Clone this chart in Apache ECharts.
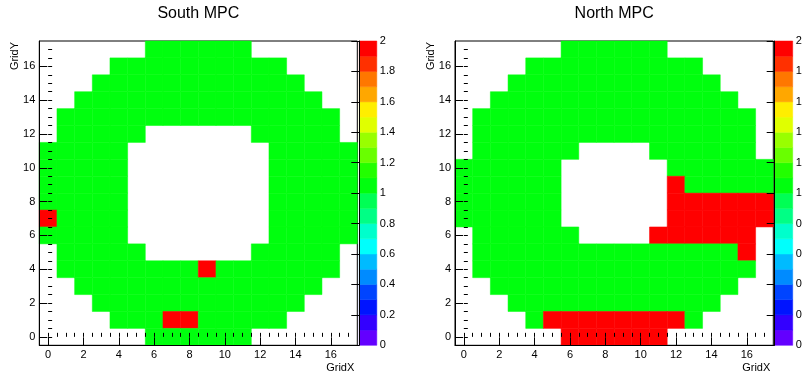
<!DOCTYPE html>
<html><head><meta charset="utf-8">
<script src="https://cdn.jsdelivr.net/npm/echarts@6/dist/echarts.min.js"></script>
<style>html,body{margin:0;padding:0;background:#fff}#c{width:802px;height:378px}</style>
</head><body><div id="c"></div><script>
// ---- data ----
const gridX = [0,1,2,3,4,5,6,7,8,9,10,11,12,13,14,15,16,17];
const gridY = [0,1,2,3,4,5,6,7,8,9,10,11,12,13,14,15,16,17];
const xTickLabels = [0,2,4,6,8,10,12,14,16];
const yTickLabels = [0,2,4,6,8,10,12,14,16];
const zTickLabels = [0,0.2,0.4,0.6,0.8,1,1.2,1.4,1.6,1.8,2];
const titles = ['South MPC','North MPC'];
// rows listed from GridY = 17 (top) down to GridY = 0; columns GridX = 0..17
const southCounts = [
 [0,0,0,0,0,0,1,1,1,1,1,1,0,0,0,0,0,0],
 [0,0,0,0,1,1,1,1,1,1,1,1,1,1,0,0,0,0],
 [0,0,0,1,1,1,1,1,1,1,1,1,1,1,1,0,0,0],
 [0,0,1,1,1,1,1,1,1,1,1,1,1,1,1,1,0,0],
 [0,1,1,1,1,1,1,1,1,1,1,1,1,1,1,1,1,0],
 [0,1,1,1,1,1,0,0,0,0,0,0,1,1,1,1,1,0],
 [1,1,1,1,1,0,0,0,0,0,0,0,0,1,1,1,1,1],
 [1,1,1,1,1,0,0,0,0,0,0,0,0,1,1,1,1,1],
 [1,1,1,1,1,0,0,0,0,0,0,0,0,1,1,1,1,1],
 [1,1,1,1,1,0,0,0,0,0,0,0,0,1,1,1,1,1],
 [2,1,1,1,1,0,0,0,0,0,0,0,0,1,1,1,1,1],
 [1,1,1,1,1,0,0,0,0,0,0,0,0,1,1,1,1,1],
 [0,1,1,1,1,1,0,0,0,0,0,0,1,1,1,1,1,0],
 [0,1,1,1,1,1,1,1,1,2,1,1,1,1,1,1,1,0],
 [0,0,1,1,1,1,1,1,1,1,1,1,1,1,1,1,0,0],
 [0,0,0,1,1,1,1,1,1,1,1,1,1,1,1,0,0,0],
 [0,0,0,0,1,1,1,2,2,1,1,1,1,1,0,0,0,0],
 [0,0,0,0,0,0,1,1,1,1,1,1,0,0,0,0,0,0]
];
const northCounts = [
 [0,0,0,0,0,0,1,1,1,1,1,1,0,0,0,0,0,0],
 [0,0,0,0,1,1,1,1,1,1,1,1,1,1,0,0,0,0],
 [0,0,0,1,1,1,1,1,1,1,1,1,1,1,1,0,0,0],
 [0,0,1,1,1,1,1,1,1,1,1,1,1,1,1,1,0,0],
 [0,1,1,1,1,1,1,1,1,1,1,1,1,1,1,1,1,0],
 [0,1,1,1,1,1,1,1,1,1,1,1,1,1,1,1,1,0],
 [0,1,1,1,1,1,1,0,0,0,0,1,1,1,1,1,1,0],
 [1,1,1,1,1,1,0,0,0,0,0,0,1,1,1,1,1,1],
 [1,1,1,1,1,1,0,0,0,0,0,0,2,1,1,1,1,1],
 [1,1,1,1,1,1,0,0,0,0,0,0,2,2,2,2,2,2],
 [1,1,1,1,1,1,0,0,0,0,0,0,2,2,2,2,2,2],
 [0,1,1,1,1,1,1,0,0,0,0,2,2,2,2,2,2,0],
 [0,1,1,1,1,1,1,1,1,1,1,1,1,1,1,1,2,0],
 [0,1,1,1,1,1,1,1,1,1,1,1,1,1,1,1,1,0],
 [0,0,1,1,1,1,1,1,1,1,1,1,1,1,1,1,0,0],
 [0,0,0,1,1,1,1,1,1,1,1,1,1,1,1,0,0,0],
 [0,0,0,0,1,2,2,2,2,2,2,2,2,1,0,0,0,0],
 [0,0,0,0,0,0,2,2,2,2,2,2,0,0,0,0,0,0]
];
// colour palette: 20 levels between 0 and 2 (ROOT rainbow hues)
const zMin = 0, zMax = 2, nLevels = 20;
const paletteHues = [263.2,252,235.2,224,207.2,196,179.2,168,151.2,140,123.2,112,95.2,84,67.2,56,39.2,28,11.2,0];

// ---- helpers ----
function levelColor(i){ return 'hsl(' + paletteHues[i] + ',100%,50%)'; }
function levelOf(v){ return Math.min(nLevels - 1, Math.floor((v - zMin) / (zMax - zMin) * nLevels + 1e-9)); }
function toCells(matrix){
  const out = [];
  matrix.forEach((row, r) => {
    const y = gridY[gridY.length - 1 - r];
    row.forEach((v, c) => { if (v > 0) out.push([gridX[c], y, v]); });
  });
  return out;
}
const paletteData = paletteHues.map((h, i) => [zMin + i * (zMax - zMin) / nLevels, zMin + (i + 1) * (zMax - zMin) / nLevels, i]);
const minorTicks = [];
for (let t = 0; t <= 17.01; t += 0.5) minorTicks.push(t);

const FONT = 'Liberation Sans, Arial, Helvetica, sans-serif';
const panels = [
  {data: southCounts, left: 39.3, top: 41, width: 318, height: 304.3, palLeft: 359.3, palWidth: 17.5},
  {data: northCounts, left: 455, top: 41, width: 318.3, height: 304.3, palLeft: 774.7, palWidth: 18}
];

const grid = [], xAxis = [], yAxis = [], series = [], graphic = [];
panels.forEach((p, k) => {
  const g0 = grid.length;
  // g0: main plot, g0+1: palette, g0+2: overlay grid carrying the minor ticks
  grid.push({left: p.left, top: p.top, width: p.width, height: p.height, show: true, borderColor: '#000', borderWidth: 1,
    backgroundColor: 'transparent', containLabel: false, outerBoundsMode: 'none'});
  grid.push({left: p.palLeft, top: p.top, width: p.palWidth, height: p.height, containLabel: false, outerBoundsMode: 'none'});
  grid.push({left: p.left, top: p.top, width: p.width, height: p.height, containLabel: false, outerBoundsMode: 'none', z: 5});
  const lab = {fontSize: 11, color: '#000', fontFamily: FONT, margin: 4};
  const ax = xAxis.length;
  // main axes: line, major ticks, labels
  xAxis.push({type: 'value', gridIndex: g0, min: -0.5, max: 17.5, position: 'bottom', z: 10,
    axisLine: {show: true, onZero: false, lineStyle: {color: '#000', width: 1}},
    axisTick: {show: true, inside: true, length: 8, customValues: xTickLabels, lineStyle: {color: '#000'}},
    axisLabel: Object.assign({customValues: xTickLabels}, lab), splitLine: {show: false}});
  // palette x
  xAxis.push({type: 'value', gridIndex: g0 + 1, min: 0, max: 1, show: false});
  // overlay: minor ticks
  xAxis.push({type: 'value', gridIndex: g0 + 2, min: -0.5, max: 17.5, position: 'bottom', z: 10,
    axisLine: {show: false}, axisTick: {show: true, inside: true, length: 4, customValues: minorTicks, lineStyle: {color: '#000'}},
    axisLabel: {show: false}, splitLine: {show: false}});
  yAxis.push({type: 'value', gridIndex: g0, min: -0.5, max: 17.5, position: 'left', z: 10,
    axisLine: {show: true, onZero: false, lineStyle: {color: '#000', width: 1}},
    axisTick: {show: true, inside: true, length: 8, customValues: yTickLabels, lineStyle: {color: '#000'}},
    axisLabel: Object.assign({customValues: yTickLabels}, lab), splitLine: {show: false}});
  yAxis.push({type: 'value', gridIndex: g0 + 1, min: zMin, max: zMax, position: 'right', z: 10,
    axisLine: {show: true, lineStyle: {color: '#000', width: 1}},
    axisTick: {show: true, inside: true, length: 8, customValues: zTickLabels, lineStyle: {color: '#000'}},
    axisLabel: Object.assign({}, lab, {customValues: zTickLabels, margin: 3}), splitLine: {show: false}});
  yAxis.push({type: 'value', gridIndex: g0 + 2, min: -0.5, max: 17.5, position: 'left', z: 10,
    axisLine: {show: false}, axisTick: {show: true, inside: true, length: 4, customValues: minorTicks, lineStyle: {color: '#000'}},
    axisLabel: {show: false}, splitLine: {show: false}});

  series.push({type: 'custom', xAxisIndex: ax, yAxisIndex: ax, data: toCells(p.data), z: 2,
    renderItem: function (params, api) {
      const x = api.value(0), y = api.value(1), v = api.value(2);
      const a = api.coord([x - 0.5, y + 0.5]);
      const b = api.coord([x + 0.5, y - 0.5]);
      const col = levelColor(levelOf(v));
      return {type: 'rect', shape: {x: a[0], y: a[1], width: b[0] - a[0], height: b[1] - a[1]},
        style: {fill: col, stroke: col, lineWidth: 0.5}};
    }});
  series.push({type: 'custom', xAxisIndex: ax + 1, yAxisIndex: ax + 1, data: paletteData, z: 2,
    renderItem: function (params, api) {
      const lo = api.value(0), hi = api.value(1), i = api.value(2);
      const a = api.coord([0, hi]);
      const b = api.coord([1, lo]);
      const col = levelColor(i);
      return {type: 'rect', shape: {x: a[0], y: a[1], width: b[0] - a[0], height: b[1] - a[1]},
        style: {fill: col, stroke: col, lineWidth: 0.5}};
    }});

  graphic.push({type: 'text', x: p.left + p.width / 2, y: 14, style: {text: titles[k], font: '16px ' + FONT, fill: '#000', align: 'center', verticalAlign: 'middle'}});
  graphic.push({type: 'text', x: p.left + p.width - 3, y: 368, style: {text: 'GridX', font: '11px ' + FONT, fill: '#000', align: 'right', verticalAlign: 'middle'}});
  graphic.push({type: 'text', x: p.left - 24, y: p.top + 1, rotation: Math.PI / 2, style: {text: 'GridY', font: '11px ' + FONT, fill: '#000', align: 'right', verticalAlign: 'middle'}});
});

const chart = echarts.init(document.getElementById('c'), null, {renderer: 'canvas'});
chart.setOption({animation: false, backgroundColor: '#fff', grid, xAxis, yAxis, series, graphic});
</script></body></html>
